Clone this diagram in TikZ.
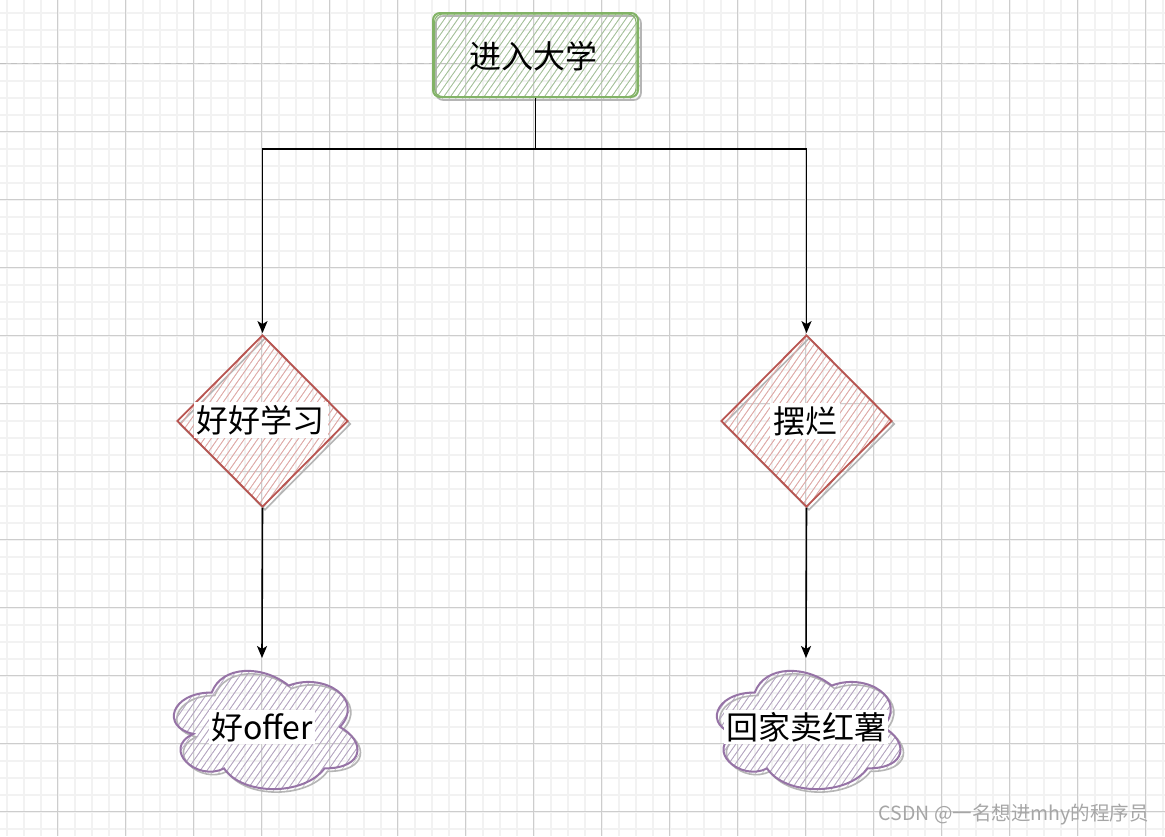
\documentclass[tikz,border=0pt]{standalone}
\usepackage{fontspec}
\newfontfamily\cjk{Noto Sans CJK SC}
\usetikzlibrary{arrows.meta,patterns.meta,shapes.geometric}
\definecolor{gstroke}{HTML}{82B366}
\definecolor{ghatch}{HTML}{A3C596}
\definecolor{rstroke}{HTML}{B85450}
\definecolor{rhatch}{HTML}{E8A6A3}
\definecolor{pstroke}{HTML}{9673A6}
\definecolor{phatch}{HTML}{B5A2C4}
\definecolor{minorgrid}{HTML}{F2F2F2}
\definecolor{majorgrid}{HTML}{CDCDCD}
\definecolor{shadowc}{HTML}{B5B5B5}
\definecolor{shadowhatch}{HTML}{C4C4C4}
\definecolor{pagebreak}{HTML}{C0C0C0}
\definecolor{wmark}{HTML}{A6A6A6}
\tikzset{
  minorline/.style={draw=minorgrid,line width=2pt},
  majorline/.style={draw=majorgrid,line width=1pt},
  hatchbase/.style={pattern={Lines[angle=55,distance=5.5pt,line width=0.7pt]}},
  shadowfill/.style={hatchbase,pattern color=shadowhatch,draw=shadowc,line width=1.6pt},
  rectbox/.style={rectangle,rounded corners=7pt,minimum width=205pt,minimum height=84pt,inner sep=0pt},
  diabox/.style={diamond,aspect=1,minimum width=171pt,minimum height=172pt,inner sep=0pt},
  lbl/.style={font=\cjk\fontsize{32}{36}\selectfont,fill=white,inner sep=3pt,text=black},
  conn/.style={draw=black,line width=1.6pt,-{Stealth[length=12pt,width=10pt,inset=3pt]}},
}
\begin{document}
\begin{tikzpicture}[x=1pt,y=-1pt]
\useasboundingbox (0,0) rectangle (1165,836);
\fill[white] (0,0) rectangle (1165,836);
% grid
\foreach \x in {6.5,23.5,...,1165} \draw[minorline] (\x,0) -- (\x,836);
\foreach \y in {12.5,29.5,...,836} \draw[minorline] (0,\y) -- (1165,\y);
\foreach \x in {57.5,125.5,...,1165} \draw[majorline] (\x,0) -- (\x,836);
\foreach \y in {63.5,131.5,...,836} \draw[majorline] (0,\y) -- (1165,\y);
\draw[pagebreak,line width=1.5pt,dash pattern=on 6pt off 5pt] (0,63.5) -- (1165,63.5);

% top rectangle
\node[rectbox,shadowfill] (s0) at (538.5,58) {};
\node[rectbox,hatchbase,pattern color=ghatch,draw=gstroke,line width=2pt] (start) at (535.5,55) {};
\draw[gstroke,line width=1pt,rounded corners=8pt] (434.5,14) rectangle (636,96.5);
\node[lbl,fill=none] (tstart) at (533.5,56) {进入大学};

% diamonds
\node[diabox,shadowfill] (s1) at (265,424) {};
\node[diabox,shadowfill] (s2) at (809,424) {};
\node[diabox,hatchbase,pattern color=rhatch,draw=rstroke,line width=1.8pt] (d1) at (262.5,421) {};
\node[diabox,hatchbase,pattern color=rhatch,draw=rstroke,line width=1.8pt] (d2) at (806.5,421) {};
\node[lbl] (t1) at (260.5,420) {好好学习};
\node[lbl] (t2) at (805,421) {摆烂};

% clouds
\foreach \cx in {160.5,703.5}{
  \begin{scope}[shift={(\cx,658)},x=205pt,y=-138pt]
    \path[shadowfill,xshift=3pt,yshift=-3pt]
      (0.25,0.25) .. controls (0.05,0.25) and (0,0.5) .. (0.16,0.55)
      .. controls (0,0.66) and (0.18,0.9) .. (0.31,0.8)
      .. controls (0.4,1) and (0.7,1) .. (0.8,0.8)
      .. controls (1,0.8) and (1,0.6) .. (0.875,0.5)
      .. controls (1,0.3) and (0.8,0.1) .. (0.625,0.2)
      .. controls (0.5,0.05) and (0.3,0.05) .. (0.25,0.25) -- cycle;
    \path[hatchbase,pattern color=phatch,draw=pstroke,line width=2pt]
      (0.25,0.25) .. controls (0.05,0.25) and (0,0.5) .. (0.16,0.55)
      .. controls (0,0.66) and (0.18,0.9) .. (0.31,0.8)
      .. controls (0.4,1) and (0.7,1) .. (0.8,0.8)
      .. controls (1,0.8) and (1,0.6) .. (0.875,0.5)
      .. controls (1,0.3) and (0.8,0.1) .. (0.625,0.2)
      .. controls (0.5,0.05) and (0.3,0.05) .. (0.25,0.25) -- cycle;
  \end{scope}
}
\coordinate (c1) at (262,658);
\coordinate (c2) at (806,658);
\node[lbl,inner sep=2pt] (t3) at (262,727) {好offer};
\node[lbl,inner sep=2pt] (t4) at (806,727) {回家卖红薯};

% connectors
\draw[conn] (start.south) -- ++(0,51) -| ([yshift=1pt]d1.north);
\draw[conn] (start.south) -- ++(0,51) -| ([yshift=1pt]d2.north);
\draw[conn] (d1.south) -- (c1);
\draw[conn] (d2.south) -- (c2);

% watermark
\node[font=\cjk\fontsize{19.5}{22}\selectfont,text=wmark,anchor=east,inner sep=0pt] (wm) at (1149,815) {CSDN @一名想进mhy的程序员};
\end{tikzpicture}
\end{document}
